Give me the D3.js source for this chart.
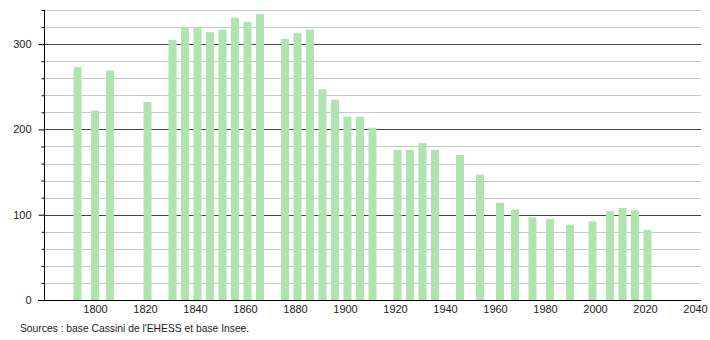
<!DOCTYPE html>
<html>
<head>
<meta charset="utf-8">
<script src="https://cdn.jsdelivr.net/npm/d3@7"></script>
<style>
  body { margin: 0; background: #fff; }
  svg text { font-family: "Liberation Sans", Arial, sans-serif; font-size: 11px; fill: #222; }
</style>
</head>
<body>
<div class="main"></div>
<script>
// population data
const years = [1793, 1800, 1806, 1821, 1831, 1836, 1841, 1846, 1851, 1856, 1861, 1866,
  1876, 1881, 1886, 1891, 1896, 1901, 1906, 1911, 1921, 1926, 1931, 1936, 1946,
  1954, 1962, 1968, 1975, 1982, 1990, 1999, 2006, 2011, 2016, 2021];
const population = [273, 222, 269, 232, 305, 320, 320, 314, 317, 331, 326, 335,
  306, 313, 317, 247, 235, 215, 215, 202, 176, 176, 184, 176, 170,
  147, 114, 106, 97, 95, 88, 92, 104, 108, 105, 82];
const xTicks = [1800, 1820, 1840, 1860, 1880, 1900, 1920, 1940, 1960, 1980, 2000, 2020, 2040];
const yMajor = [0, 100, 200, 300];
const yMinor = d3.range(0, 341, 20);
const sourceText = "Sources : base Cassini de l'EHESS et base Insee.";

const width = 710, height = 340;
const margin = { top: 10, right: 9, bottom: 40, left: 44 };

const svg = d3.select('.main').append('svg')
    .attr("width", width)
    .attr("height", height);

// scales
let x = d3.scaleLinear().domain([1779.6, 2042.4]).range([margin.left, width - margin.right]);
let y = d3.scaleLinear().domain([0, 340]).range([height - margin.bottom, margin.top]);

// grid lines, minor first then major
svg.append("g").selectAll("line").data(yMinor.filter(v => v % 100 != 0)).enter().append("line")
    .attr("x1", margin.left).attr("x2", width - margin.right)
    .attr("y1", d => Math.round(y(d)) + 0.5).attr("y2", d => Math.round(y(d)) + 0.5)
    .attr("stroke", "#c8c8c8");

svg.append("g").selectAll("line").data(yMajor.filter(v => v > 0)).enter().append("line")
    .attr("x1", margin.left).attr("x2", width - margin.right)
    .attr("y1", d => Math.round(y(d)) + 0.5).attr("y2", d => Math.round(y(d)) + 0.5)
    .attr("stroke", "#444");

// bars
const barW = 8;
svg.append("g").selectAll("rect").data(years).enter().append("rect")
    .attr("x", d => x(d) - barW / 2)
    .attr("width", barW)
    .attr("y", (d, i) => y(population[i]))
    .attr("height", (d, i) => y(0) - y(population[i]))
    .attr("fill", "#b0e3b0");

// y axis: major ticks with labels, minor ticks shorter
let yAxis = d3.axisLeft(y).tickValues(yMinor).tickSize(3)
    .tickFormat(d => d % 100 == 0 ? d : "");
let yg = svg.append("g")
    .attr("transform", "translate(" + (margin.left + 0.5) + ",0)")
    .call(yAxis);
yg.select(".domain").attr("d", "M0," + (margin.top) + "V" + y(0)).attr("stroke", "#000");
yg.selectAll(".tick line").attr("x2", d => d % 100 == 0 ? -6 : -3).attr("stroke", "#000");
yg.selectAll(".tick text").attr("x", -13).attr("font-family", null).attr("font-size", null);

// x axis: labels only
let xAxis = d3.axisBottom(x).tickValues(xTicks).tickSize(0).tickFormat(d3.format("d"));
let xg = svg.append("g")
    .attr("transform", "translate(0," + (Math.round(y(0)) + 0.5) + ")")
    .call(xAxis);
xg.select(".domain").attr("d", "M" + (margin.left - 6) + ",0H" + (width - margin.right)).attr("stroke", "#000");
xg.selectAll(".tick text").attr("y", 5).attr("font-family", null).attr("font-size", null);

// source note
svg.append("text")
    .attr("x", 20)
    .attr("y", 332)
    .style("font-size", "10.3px")
    .text(sourceText);
</script>
</body>
</html>
